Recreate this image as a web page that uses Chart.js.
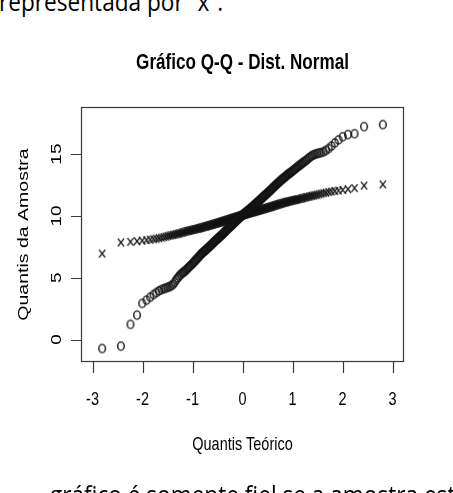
<!DOCTYPE html>
<html lang="pt">
<head>
<meta charset="utf-8">
<title>Gráfico Q-Q - Dist. Normal</title>
<script src="https://cdn.jsdelivr.net/npm/chart.js@4.4.1/dist/chart.umd.min.js"></script>
<style>
    html, body { margin: 0; padding: 0; background: #fff; }
    body { width: 453px; height: 493px; overflow: hidden; position: relative; }
    #grafico { position: absolute; left: 0; top: 0; }
    .frag {
        position: absolute;
        font-family: 'Open Sans', sans-serif;
        font-size: 26px;
        line-height: 26px;
        white-space: nowrap;
        color: #000;
        transform-origin: 0 0;
        transform: scaleX(0.87);
    }
    #topo { left: -1px; top: -12px; }
    #rodape { left: 50px; top: 481px; }
</style>
</head>
<body>
<div class="frag" id="topo">representada por “x”.</div>
<canvas id="grafico" width="453" height="493"></canvas>
<div class="frag" id="rodape">gráfico é somente fiel se a amostra estiver ao redor da linha</div>
<script>
// Quantis teóricos da normal padrão (n = 200)
const qTeorico = [
    -2.807, -2.432, -2.241, -2.109, -2.005, -1.920, -1.846, -1.781, -1.723, -1.670,
    -1.622, -1.577, -1.535, -1.495, -1.458, -1.423, -1.389, -1.357, -1.326, -1.296,
    -1.268, -1.240, -1.214, -1.188, -1.163, -1.139, -1.115, -1.092, -1.070, -1.047,
    -1.026, -1.005, -0.985, -0.964, -0.945, -0.925, -0.906, -0.887, -0.869, -0.851,
    -0.833, -0.815, -0.798, -0.781, -0.764, -0.747, -0.731, -0.715, -0.698, -0.683,
    -0.667, -0.651, -0.636, -0.621, -0.605, -0.590, -0.576, -0.561, -0.546, -0.532,
    -0.517, -0.503, -0.489, -0.475, -0.461, -0.447, -0.433, -0.419, -0.406, -0.392,
    -0.379, -0.365, -0.352, -0.339, -0.325, -0.312, -0.299, -0.286, -0.273, -0.260,
    -0.247, -0.234, -0.221, -0.208, -0.196, -0.183, -0.170, -0.157, -0.145, -0.132,
    -0.119, -0.107, -0.094, -0.082, -0.069, -0.056, -0.044, -0.031, -0.019, -0.006,
    0.006, 0.019, 0.031, 0.044, 0.056, 0.069, 0.082, 0.094, 0.107, 0.119,
    0.132, 0.145, 0.157, 0.170, 0.183, 0.196, 0.208, 0.221, 0.234, 0.247,
    0.260, 0.273, 0.286, 0.299, 0.312, 0.325, 0.339, 0.352, 0.365, 0.379,
    0.392, 0.406, 0.419, 0.433, 0.447, 0.461, 0.475, 0.489, 0.503, 0.517,
    0.532, 0.546, 0.561, 0.576, 0.590, 0.605, 0.621, 0.636, 0.651, 0.667,
    0.683, 0.698, 0.715, 0.731, 0.747, 0.764, 0.781, 0.798, 0.815, 0.833,
    0.851, 0.869, 0.887, 0.906, 0.925, 0.945, 0.964, 0.985, 1.005, 1.026,
    1.047, 1.070, 1.092, 1.115, 1.139, 1.163, 1.188, 1.214, 1.240, 1.268,
    1.296, 1.326, 1.357, 1.389, 1.423, 1.458, 1.495, 1.535, 1.577, 1.622,
    1.670, 1.723, 1.781, 1.846, 1.920, 2.005, 2.109, 2.241, 2.432, 2.807
];

// Amostra mais dispersa (marcador "o")
const amostraCirculos = [
    -0.73, -0.54, 1.22, 1.97, 2.92, 3.18, 3.42, 3.63, 3.79, 3.93,
    4.03, 4.10, 4.16, 4.22, 4.27, 4.36, 4.45, 4.62, 4.83, 4.98,
    5.12, 5.24, 5.35, 5.42, 5.50, 5.58, 5.68, 5.77, 5.86, 5.95,
    6.03, 6.12, 6.20, 6.30, 6.38, 6.47, 6.55, 6.64, 6.72, 6.81,
    6.88, 6.95, 7.02, 7.08, 7.14, 7.20, 7.26, 7.32, 7.38, 7.44,
    7.50, 7.56, 7.62, 7.68, 7.74, 7.80, 7.86, 7.92, 7.98, 8.04,
    8.09, 8.14, 8.19, 8.24, 8.29, 8.34, 8.39, 8.45, 8.50, 8.55,
    8.60, 8.66, 8.71, 8.77, 8.82, 8.88, 8.93, 8.98, 9.03, 9.08,
    9.13, 9.18, 9.23, 9.28, 9.33, 9.38, 9.43, 9.48, 9.53, 9.58,
    9.63, 9.68, 9.73, 9.78, 9.83, 9.88, 9.93, 9.97, 10.01, 10.05,
    10.09, 10.13, 10.17, 10.21, 10.25, 10.30, 10.34, 10.38, 10.42, 10.46,
    10.50, 10.55, 10.59, 10.63, 10.68, 10.72, 10.77, 10.82, 10.86, 10.91,
    10.96, 11.00, 11.05, 11.10, 11.15, 11.20, 11.25, 11.30, 11.35, 11.40,
    11.45, 11.51, 11.56, 11.61, 11.66, 11.71, 11.76, 11.81, 11.86, 11.92,
    11.97, 12.02, 12.08, 12.14, 12.20, 12.26, 12.32, 12.38, 12.44, 12.50,
    12.56, 12.62, 12.68, 12.74, 12.80, 12.86, 12.92, 12.98, 13.04, 13.10,
    13.16, 13.22, 13.28, 13.34, 13.40, 13.46, 13.52, 13.58, 13.65, 13.72,
    13.79, 13.86, 13.94, 14.01, 14.08, 14.16, 14.24, 14.32, 14.40, 14.48,
    14.57, 14.68, 14.78, 14.87, 14.94, 15.00, 15.04, 15.08, 15.12, 15.18,
    15.30, 15.45, 15.65, 15.90, 16.15, 16.40, 16.58, 16.65, 17.22, 17.38
];

// Amostra menos dispersa (marcador "x")
const amostraX = [
    6.95, 7.85, 7.90, 7.95, 8.00, 8.04, 8.08, 8.12, 8.16, 8.20,
    8.24, 8.28, 8.32, 8.36, 8.40, 8.43, 8.46, 8.49, 8.52, 8.55,
    8.58, 8.61, 8.64, 8.67, 8.70, 8.73, 8.76, 8.78, 8.80, 8.82,
    8.84, 8.86, 8.88, 8.90, 8.92, 8.94, 8.96, 8.98, 9.00, 9.02,
    9.04, 9.06, 9.08, 9.10, 9.12, 9.14, 9.15, 9.17, 9.19, 9.21,
    9.23, 9.25, 9.26, 9.28, 9.30, 9.32, 9.34, 9.35, 9.37, 9.39,
    9.41, 9.42, 9.44, 9.46, 9.48, 9.49, 9.51, 9.53, 9.55, 9.56,
    9.58, 9.60, 9.61, 9.63, 9.65, 9.66, 9.68, 9.70, 9.71, 9.73,
    9.75, 9.76, 9.78, 9.80, 9.81, 9.83, 9.85, 9.86, 9.88, 9.90,
    9.91, 9.93, 9.94, 9.96, 9.98, 9.99, 10.01, 10.02, 10.04, 10.06,
    10.07, 10.09, 10.10, 10.12, 10.13, 10.15, 10.16, 10.18, 10.19, 10.21,
    10.22, 10.24, 10.25, 10.27, 10.28, 10.30, 10.31, 10.33, 10.34, 10.36,
    10.37, 10.39, 10.40, 10.42, 10.43, 10.45, 10.46, 10.48, 10.49, 10.51,
    10.53, 10.54, 10.56, 10.58, 10.59, 10.61, 10.63, 10.64, 10.66, 10.68,
    10.69, 10.71, 10.73, 10.75, 10.77, 10.79, 10.81, 10.83, 10.85, 10.87,
    10.89, 10.91, 10.93, 10.95, 10.97, 10.99, 11.01, 11.03, 11.05, 11.07,
    11.09, 11.11, 11.13, 11.15, 11.17, 11.19, 11.21, 11.23, 11.25, 11.27,
    11.29, 11.31, 11.33, 11.35, 11.37, 11.40, 11.42, 11.45, 11.48, 11.50,
    11.53, 11.56, 11.59, 11.62, 11.65, 11.68, 11.72, 11.76, 11.80, 11.84,
    11.88, 11.93, 11.97, 12.01, 12.05, 12.10, 12.16, 12.25, 12.45, 12.55
];

const ticksX = [-3, -2, -1, 0, 1, 2, 3];
const ticksY = [0, 5, 10, 15];

const titulo = 'Gráfico Q-Q - Dist. Normal';
const tituloX = 'Quantis Teórico';
const tituloY = 'Quantis da Amostra';

// The original R picture was squeezed horizontally
const SQ = 0.76;
const COR = '#141414';

// Marker images (pch = 1 and pch = 4)
function marcadorCirculo() {
    const c = document.createElement('canvas');
    c.width = 12; c.height = 12;
    const g = c.getContext('2d');
    g.strokeStyle = COR;
    g.lineWidth = 1.45;
    g.beginPath();
    g.ellipse(6, 6, 3.3, 4.1, 0, 0, Math.PI * 2);
    g.stroke();
    return c;
}

function marcadorX() {
    const c = document.createElement('canvas');
    c.width = 12; c.height = 12;
    const g = c.getContext('2d');
    g.strokeStyle = COR;
    g.lineWidth = 1.35;
    g.beginPath();
    g.moveTo(2.9, 2.1); g.lineTo(9.1, 9.9);
    g.moveTo(9.1, 2.1); g.lineTo(2.9, 9.9);
    g.stroke();
    return c;
}

function texto(ctx, s, x, y, font, rotado) {
    ctx.save();
    ctx.translate(x, y);
    if (rotado) {
        ctx.rotate(-Math.PI / 2);
        ctx.scale(1, SQ);
    } else {
        ctx.scale(SQ, 1);
    }
    ctx.font = font;
    ctx.fillStyle = '#000';
    ctx.textAlign = 'center';
    ctx.textBaseline = 'alphabetic';
    ctx.fillText(s, 0, 0);
    ctx.restore();
}

// Box, axes and labels drawn R style
const eixosR = {
    id: 'eixosR',
    afterDraw(chart) {
        const ctx = chart.ctx;
        const a = chart.chartArea;
        const sx = chart.scales.x;
        const sy = chart.scales.y;

        ctx.save();
        ctx.strokeStyle = '#3a3a3a';
        ctx.lineWidth = 1.2;
        ctx.strokeRect(a.left + 0.5, a.top + 0.5, a.right - a.left - 1, a.bottom - a.top - 1);

        ctx.beginPath();
        ticksX.forEach(v => {
            const px = Math.round(sx.getPixelForValue(v)) + 0.5;
            ctx.moveTo(px, a.bottom);
            ctx.lineTo(px, a.bottom + 11);
        });
        ticksY.forEach(v => {
            const py = Math.round(sy.getPixelForValue(v)) + 0.5;
            ctx.moveTo(a.left, py);
            ctx.lineTo(a.left - 10, py);
        });
        ctx.stroke();
        ctx.restore();

        const fonte = '19px "Liberation Sans", Arial, sans-serif';
        ticksX.forEach(v => {
            texto(ctx, String(v), sx.getPixelForValue(v), 405, fonte, false);
        });
        ticksY.forEach(v => {
            texto(ctx, String(v), 60.5, sy.getPixelForValue(v), fonte, true);
        });

        const meioX = (a.left + a.right) / 2;
        const meioY = (a.top + a.bottom) / 2;
        texto(ctx, titulo, meioX, 68.5, 'bold 22.5px "Liberation Sans", Arial, sans-serif', false);
        texto(ctx, tituloX, meioX, 450, fonte, false);
        texto(ctx, tituloY, 27.5, meioY, '19.5px "Liberation Sans", Arial, sans-serif', true);
    }
};

const ctx = document.getElementById('grafico').getContext('2d');

new Chart(ctx, {
    type: 'scatter',
    data: {
        datasets: [{
            label: 'Amostra o',
            data: qTeorico.map((q, i) => ({ x: q, y: amostraCirculos[i] })),
            pointStyle: marcadorCirculo(),
            pointRadius: 4
        }, {
            label: 'Amostra x',
            data: qTeorico.map((q, i) => ({ x: q, y: amostraX[i] })),
            pointStyle: marcadorX(),
            pointRadius: 4
        }]
    },
    options: {
        responsive: false,
        animation: false,
        devicePixelRatio: 1,
        layout: {
            padding: { left: 81, top: 107, right: 49, bottom: 131 }
        },
        scales: {
            x: { type: 'linear', min: -3.23, max: 3.23, display: false },
            y: { type: 'linear', min: -1.82, max: 18.81, display: false }
        },
        plugins: {
            legend: { display: false },
            tooltip: { enabled: false }
        }
    },
    plugins: [eixosR]
});
</script>
</body>
</html>
